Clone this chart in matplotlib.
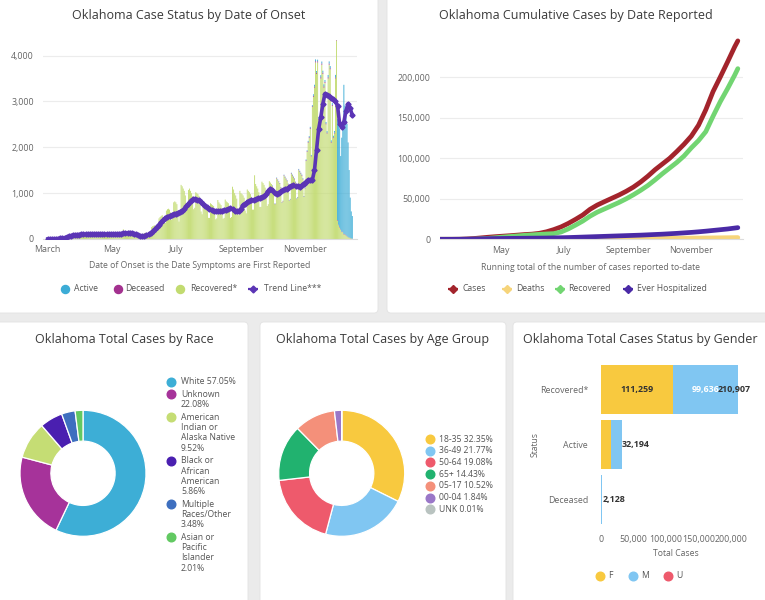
import numpy as np
import pandas as pd
import matplotlib
matplotlib.use('Agg')
import matplotlib.pyplot as plt
import matplotlib.dates as mdates
from matplotlib.patches import FancyBboxPatch
from matplotlib.ticker import FuncFormatter

# ---------------- data ----------------
# Chart 1: case status by date of onset (daily, from onset_start)
onset_start = '2020-03-01'
onset_recovered = [
    0, 0, 1, 1, 2, 2, 1,
    2, 4, 5, 7, 9, 10, 8,
    15, 28, 35, 40, 45, 50, 35,
    45, 85, 90, 95, 95, 90, 60,
    70, 125, 120, 115, 110, 100, 70,
    75, 125, 120, 115, 105, 100, 65,
    70, 120, 115, 110, 100, 95, 60,
    70, 120, 115, 105, 100, 95, 60,
    70, 125, 120, 115, 105, 100, 65,
    75, 130, 125, 115, 110, 100, 65,
    80, 145, 210, 135, 125, 115, 75,
    95, 170, 150, 140, 130, 110, 70,
    45, 55, 85, 80, 75, 65, 45,
    60, 130, 135, 130, 125, 120, 85,
    120, 260, 280, 290, 300, 280, 200,
    230, 450, 480, 500, 520, 480, 350,
    350, 620, 650, 660, 640, 580, 420,
    450, 800, 820, 800, 760, 600, 380,
    520, 1180, 1150, 1100, 1050, 950, 650,
    700, 1070, 1100, 1050, 1000, 930, 650,
    680, 1020, 1000, 980, 940, 860, 600,
    540, 800, 780, 760, 740, 680, 460,
    460, 780, 760, 740, 720, 650, 430,
    450, 850, 800, 770, 740, 670, 440,
    460, 860, 820, 800, 780, 700, 460,
    480, 1140, 1080, 1000, 950, 880, 560,
    520, 1050, 1000, 980, 950, 900, 620,
    560, 1080, 1050, 1020, 980, 920, 640,
    640, 1390, 1200, 1150, 1100, 1020, 700,
    700, 1250, 1220, 1180, 1120, 1040, 720,
    760, 1260, 1230, 1200, 1150, 1080, 760,
    760, 1320, 1280, 1240, 1200, 1120, 790,
    820, 1380, 1340, 1300, 1260, 1190, 830,
    860, 1420, 1380, 1340, 1300, 1230, 870,
    900, 1500, 1460, 1420, 1380, 1300, 920,
    1100, 1700, 1900, 2100, 2200, 2400, 1800,
    2880, 3100, 3300, 3850, 3600, 3850, 2600,
    2500, 3500, 3800, 3600, 3300, 3400, 2500,
    2300, 3500, 3800, 3700, 2100, 2900, 2200,
    2300, 3500, 4330,
    400, 300, 250, 200, 150, 150, 100, 100, 80, 60, 40, 30, 20, 10, 5,
]
onset_active_start = '2020-10-01'
onset_active = [
    8, 7, 5,
    5, 9, 9, 8, 8, 7, 5,
    6, 10, 10, 9, 9, 8, 6,
    7, 12, 12, 11, 11, 10, 7,
    8, 14, 14, 13, 13, 12, 9,
    10, 18, 18, 22, 24, 26, 18,
    22, 32, 38, 40, 38, 36, 28,
    30, 45, 44, 43, 45, 42, 32,
    32, 50, 48, 46, 34, 42, 34,
    38, 55, 60,
    2200, 2300, 2150, 1600, 2050, 2350, 3250, 2800, 2620, 2440, 2060, 1470, 880, 590, 495,
]
onset_deceased = [
    10, 9, 7,
    7, 11, 11, 10, 10, 9, 7,
    8, 12, 12, 11, 11, 10, 8,
    8, 13, 13, 12, 12, 11, 8,
    9, 14, 14, 13, 13, 12, 9,
    10, 16, 16, 18, 19, 20, 15,
    17, 24, 26, 27, 26, 25, 20,
    21, 28, 27, 27, 28, 26, 20,
    20, 27, 26, 25, 18, 22, 18,
    18, 24, 25,
    14, 13, 12, 9, 10, 11, 13, 11, 9, 8, 6, 4, 3, 2, 1,
]
trend_start = '2020-03-01'
trend_freq = '2D'
onset_trend = [
    0, 0, 2, 3, 5, 8, 12, 20,
    28, 40, 55, 70, 82, 90, 95,
    98, 100, 102, 104, 104, 103, 102, 100, 100, 100, 100, 101, 102, 103, 104, 106,
    108, 110, 112, 115, 118, 122, 128, 135, 140, 132, 118, 100, 82, 68, 60,
    65, 78, 100, 130, 170, 215, 265, 315, 365, 415, 455, 485, 505, 525, 545,
    555, 575, 595, 620, 660, 710, 770, 830, 865, 870, 860, 840, 800, 760, 720, 690,
    660, 640, 620, 610, 610, 612, 618, 625, 640, 660, 668, 650, 620, 600, 600,
    660, 740, 770, 800, 825, 845, 855, 870, 885, 900, 915, 930, 980, 1050, 1100,
    1060, 1000, 990, 1010, 1040, 1065, 1080, 1100, 1130, 1165, 1170, 1160, 1145, 1140, 1170, 1210,
    1250, 1290, 1280, 1290, 1500, 1950, 2400, 2650, 2950, 3170, 3150, 3110, 3080, 3050, 3000,
    2900, 2500, 2450, 2550, 2800, 2950, 2850, 2700,
]
onset_ticks = ['2020-03-01', '2020-05-01', '2020-07-01', '2020-09-01', '2020-11-01']

# Chart 2: cumulative by date reported (first report, weekly samples, last day)
cum_first = '2020-03-03'
cum_weekly_start = '2020-03-08'
cum_last = '2020-12-16'
cum_cases = [0, 2, 10, 80, 430, 1000, 1800, 2600, 3300, 3900, 4500, 5200, 5900, 6400, 7400,
             9300, 12000, 15300, 19600, 24600, 30000, 37000, 42300, 46500, 50600, 54700,
             59300, 64500, 70800, 78000, 86000, 93000, 100000, 108500, 117500, 127500,
             141000, 160000, 182500, 200500, 219000, 238000, 245229]
cum_deaths = [0, 0, 0, 3, 15, 50, 110, 160, 210, 245, 275, 295, 315, 335, 350, 365, 380, 395,
              405, 435, 480, 530, 580, 630, 690, 750, 810, 890, 960, 1050, 1120, 1180, 1250,
              1310, 1380, 1450, 1530, 1610, 1710, 1810, 1940, 2070, 2128]
cum_recovered = [0, 0, 0, 0, 30, 150, 550, 1200, 2000, 2800, 3500, 4200, 4900, 5500, 6100, 6600,
                 7000, 9000, 12800, 17500, 22500, 28500, 33500, 37500, 41500, 45500, 50000,
                 55000, 60500, 66500, 73500, 81000, 88000, 95000, 103000, 113000, 122000,
                 133000, 152000, 170000, 186000, 203000, 210907]
cum_hosp = [0, 0, 5, 60, 200, 400, 600, 800, 920, 1020, 1120, 1220, 1320, 1420, 1480, 1580, 1750,
            1950, 2150, 2450, 2750, 3050, 3350, 3650, 3950, 4250, 4550, 4850, 5150, 5550, 5950,
            6350, 6850, 7350, 7950, 8550, 9250, 10050, 10950, 11850, 12750, 13900, 14400]
cum_ticks = ['2020-05-01', '2020-07-01', '2020-09-01', '2020-11-01']

# Chart 3: race
race_names = ['White', 'Unknown', 'American\nIndian or\nAlaska Native', 'Black or\nAfrican\nAmerican',
              'Multiple\nRaces/Other', 'Asian or\nPacific\nIslander']
race_sep = [' ', '\n', '\n', '\n', '\n', '\n']
race_pct = [57.05, 22.08, 9.52, 5.86, 3.48, 2.01]

# Chart 4: age group
age_groups = ['18-35', '36-49', '50-64', '65+', '05-17', '00-04', 'UNK']
age_pct = [32.35, 21.77, 19.08, 14.43, 10.52, 1.84, 0.01]

# Chart 5: gender
gender_status = ['Recovered*', 'Active', 'Deceased']
gender_f = [111259, 16450, 905]
gender_m = [99636, 15650, 1215]
gender_u = [12, 94, 8]

# ---------------- style ----------------
plt.rcParams['font.family'] = ['Open Sans', 'DejaVu Sans']
C_ACTIVE, C_DEC, C_REC, C_TREND = '#3cacd6', '#a3318f', '#c2db70', '#5b35b5'
C_CASES, C_DEATHS, C_RECOV, C_HOSP = '#a3242c', '#f6d47a', '#72d572', '#4a2aa6'
RACE_COLORS = ['#3daed6', '#a6339a', '#c5dd74', '#4a1fb0', '#3e6fbf', '#62c962']
AGE_COLORS = ['#f8c93f', '#80c6f2', '#ee5a6c', '#21b26f', '#f4907a', '#9a77c8', '#b9c3c0']
G_COLORS = ['#f8c93f', '#80c6f2', '#ee5a6c']
TITLE_C, TEXT_C, AXIS_C = '#3a3a3a', '#555555', '#666666'
TS, LS, AS = 9.0, 6.2, 6.4

W, H = 765, 600
fig = plt.figure(figsize=(7.65, 6.0), dpi=100)
fig.patch.set_facecolor('#ebebeb')

bg = fig.add_axes([0, 0, 1, 1], zorder=0)
bg.set_xlim(0, W)
bg.set_ylim(H, 0)
bg.axis('off')


def box(l, t, r, b):
    return [l / W, 1 - b / H, (r - l) / W, (b - t) / H]


def txt(x, y, s, size=LS, color=TEXT_C, ha='left', va='center', **kw):
    bg.text(x, y, s, fontsize=size, color=color, ha=ha, va=va, **kw)


def mark(x, y, color, marker='o', ms=5.8, line=False):
    if line:
        bg.plot([x - 5, x + 5], [y, y], color=color, lw=1.6, solid_capstyle='butt')
    bg.plot([x], [y], marker=marker, ms=ms, color=color, mec=color, ls='none')


for (l, t, r, b) in [(-6, -6, 378, 313), (387, -6, 771, 313), (-6, 322, 248, 606),
                     (260, 322, 506, 606), (513, 322, 771, 606)]:
    bg.add_patch(FancyBboxPatch((l, t), r - l, b - t, boxstyle='round,pad=0,rounding_size=4',
                                fc='white', ec='#e2e2e2', lw=0.6))

thousands = FuncFormatter(lambda v, p: f'{v:,.0f}')


def style_line_axes(ax):
    ax.set_facecolor('none')
    for s in ['top', 'right', 'left']:
        ax.spines[s].set_visible(False)
    ax.spines['bottom'].set_color('#dcdcdc')
    ax.spines['bottom'].set_linewidth(0.8)
    ax.grid(axis='y', color='#ececec', lw=0.8)
    ax.set_axisbelow(True)
    ax.tick_params(axis='both', length=0, labelsize=AS, labelcolor=AXIS_C)
    ax.tick_params(axis='y', pad=6.5)
    ax.tick_params(axis='x', pad=4.5)
    ax.yaxis.set_major_formatter(thousands)
    ax.xaxis.set_major_formatter(mdates.DateFormatter('%B'))


# ---------------- chart 1 ----------------
idx = pd.date_range(onset_start, periods=len(onset_recovered), freq='D')
rec = pd.Series(onset_recovered, index=idx, dtype=float)
act = pd.Series(onset_active, index=pd.date_range(onset_active_start, periods=len(onset_active),
                                                   freq='D')).reindex(idx, fill_value=0)
dec = pd.Series(onset_deceased, index=pd.date_range(onset_active_start, periods=len(onset_deceased),
                                                     freq='D')).reindex(idx, fill_value=0)
tidx = pd.date_range(trend_start, periods=len(onset_trend), freq=trend_freq)

ax1 = fig.add_axes(box(43, 40, 357, 239), zorder=2)
style_line_axes(ax1)
bar_kw = dict(width=0.85, lw=0, snap=False, antialiased=True)
ax1.bar(idx, rec.values, color=C_REC, **bar_kw)
ax1.bar(idx, dec.values, bottom=rec.values, color=C_DEC, **bar_kw)
ax1.bar(idx, act.values, bottom=(rec + dec).values, color=C_ACTIVE, **bar_kw)
ax1.plot(tidx, onset_trend, color=C_TREND, lw=2.6, marker='D', ms=2.6, zorder=5)
ax1.set_ylim(0, 4340)
ax1.set_yticks([0, 1000, 2000, 3000, 4000])
ax1.set_xticks(pd.to_datetime(onset_ticks))
ax1.set_xlim(pd.Timestamp('2020-02-25 12:00'), pd.Timestamp('2020-12-20 12:00'))

txt(189, 16, 'Oklahoma Case Status by Date of Onset', size=TS, color=TITLE_C, ha='center')
txt(200, 266, 'Date of Onset is the Date Symptoms are First Reported', color=AXIS_C, ha='center')
mark(65, 288.5, C_ACTIVE); txt(74, 288.5, 'Active')
mark(118, 288.5, C_DEC); txt(125, 288.5, 'Deceased')
mark(180, 288.5, C_REC); txt(190, 288.5, 'Recovered*')
mark(253.5, 288.5, C_TREND, marker='D', ms=3.5, line=True); txt(264, 288.5, 'Trend Line***')

# ---------------- chart 2 ----------------
cidx = pd.DatetimeIndex([cum_first]).append(
    pd.date_range(cum_weekly_start, periods=len(cum_cases) - 2, freq='7D')).append(
    pd.DatetimeIndex([cum_last]))
ax2 = fig.add_axes(box(440, 37, 743, 239.3), zorder=2)
style_line_axes(ax2)
ax2.tick_params(axis='y', pad=7)
for vals, col in [(cum_cases, C_CASES), (cum_deaths, C_DEATHS), (cum_recovered, C_RECOV),
                  (cum_hosp, C_HOSP)]:
    ax2.plot(cidx, vals, color=col, lw=3.4, solid_capstyle='round', solid_joinstyle='round')
ax2.set_ylim(0, 250000)
ax2.set_yticks([0, 50000, 100000, 150000, 200000])
ax2.set_xticks(pd.to_datetime(cum_ticks))
ax2.set_xlim(pd.Timestamp(cum_first), pd.Timestamp('2020-12-21'))

txt(576, 16, 'Oklahoma Cumulative Cases by Date Reported', size=TS, color=TITLE_C, ha='center')
txt(591, 267, 'Running total of the number of cases reported to-date', color=AXIS_C, ha='center')
mark(453, 288.5, C_CASES, marker='D', ms=3.8, line=True); txt(462.5, 288.5, 'Cases')
mark(507.5, 288.5, C_DEATHS, marker='D', ms=3.8, line=True); txt(516, 288.5, 'Deaths')
mark(560, 288.5, C_RECOV, marker='D', ms=3.8, line=True); txt(568, 288.5, 'Recovered')
mark(628, 288.5, C_HOSP, marker='D', ms=3.8, line=True); txt(637, 288.5, 'Ever Hospitalized')

# ---------------- chart 3: race donut ----------------
ax3 = fig.add_axes(box(20, 410.3, 146, 536.3), zorder=2)
w3, _ = ax3.pie(race_pct, colors=RACE_COLORS, startangle=90, counterclock=False, radius=1,
                wedgeprops=dict(width=0.49, edgecolor='white', linewidth=0.9))
for w in w3:
    w.set_clip_on(False)
ax3.set_xlim(-1, 1); ax3.set_ylim(-1, 1)
txt(124.8, 339.5, 'Oklahoma Total Cases by Race', size=TS, color=TITLE_C, ha='center')
y = 381.7
for name, sep, pct, col in zip(race_names, race_sep, race_pct, RACE_COLORS):
    lines = f'{name}{sep}{pct:.2f}%'.split('\n')
    mark(171.5, y, col, ms=6.2)
    for i, ln in enumerate(lines):
        txt(181, y + i * 10.3, ln)
    y += len(lines) * 10.3 + 2.3

# ---------------- chart 4: age donut ----------------
ax4 = fig.add_axes(box(278.7, 410.3, 404.7, 536.3), zorder=2)
w4, _ = ax4.pie(age_pct, colors=AGE_COLORS, startangle=90, counterclock=False, radius=1,
                wedgeprops=dict(width=0.49, edgecolor='white', linewidth=0.9))
for w in w4:
    w.set_clip_on(False)
ax4.set_xlim(-1, 1); ax4.set_ylim(-1, 1)
txt(382.5, 339.5, 'Oklahoma Total Cases by Age Group', size=TS, color=TITLE_C, ha='center')
for i, (g, p, col) in enumerate(zip(age_groups, age_pct, AGE_COLORS)):
    yy = 439 + i * 11.7
    mark(430, yy, col, ms=6.2)
    txt(439.3, yy, f'{g} {p:.2f}%')

# ---------------- chart 5: gender bars ----------------
ax5 = fig.add_axes(box(600.7, 362, 751, 527), zorder=2)
ax5.set_facecolor('none')
ypos = np.arange(len(gender_status))
left = np.zeros(len(gender_status))
for vals, col in zip([gender_f, gender_m, gender_u], G_COLORS):
    ax5.barh(ypos, vals, left=left, height=0.89, color=col, lw=0)
    left = left + np.array(vals)
ax5.set_ylim(2.5, -0.5)
ax5.set_xlim(0, 231000)
ax5.set_xticks([0, 50000, 100000, 150000, 200000])
ax5.xaxis.set_major_formatter(thousands)
ax5.set_yticks(ypos)
ax5.set_yticklabels(gender_status)
ax5.tick_params(axis='both', length=0, labelsize=AS, labelcolor=AXIS_C)
ax5.tick_params(axis='x', pad=6)
ax5.tick_params(axis='y', pad=9)
for s in ax5.spines.values():
    s.set_visible(False)
xmax = ax5.get_xlim()[1]
for i in range(len(gender_status)):
    f, m = gender_f[i], gender_m[i]
    if f > 40000:
        ax5.text(f / 2, i, f'{f:,}', ha='center', va='center', fontsize=AS, color='#333333',
                 fontweight='bold')
    if m > 40000:
        ax5.text(f + m / 2, i, f'{m:,}', ha='center', va='center', fontsize=AS, color='white',
                 fontweight='bold')
    total = left[i]
    if total > 0.8 * xmax:
        ax5.text(xmax, i, f'{int(total):,}', ha='right', va='center', fontsize=AS,
                 color='#333333', fontweight='bold')
    else:
        ax5.text(total + 600, i, f'{int(total):,}', ha='left', va='center', fontsize=AS,
                 color='#333333', fontweight='bold')

txt(640, 339.5, 'Oklahoma Total Cases Status by Gender', size=TS, color=TITLE_C, ha='center')
txt(676, 553.5, 'Total Cases', color=AXIS_C, ha='center')
txt(535, 444.5, 'Status', color=AXIS_C, ha='center', rotation=90)
for x, lab, col in [(600, 'F', G_COLORS[0]), (632.7, 'M', G_COLORS[1]), (668, 'U', G_COLORS[2])]:
    mark(x, 576, col, ms=6.2)
    txt(x + 8.5, 576, lab)

fig.savefig('out.png', dpi=100, facecolor=fig.get_facecolor())
